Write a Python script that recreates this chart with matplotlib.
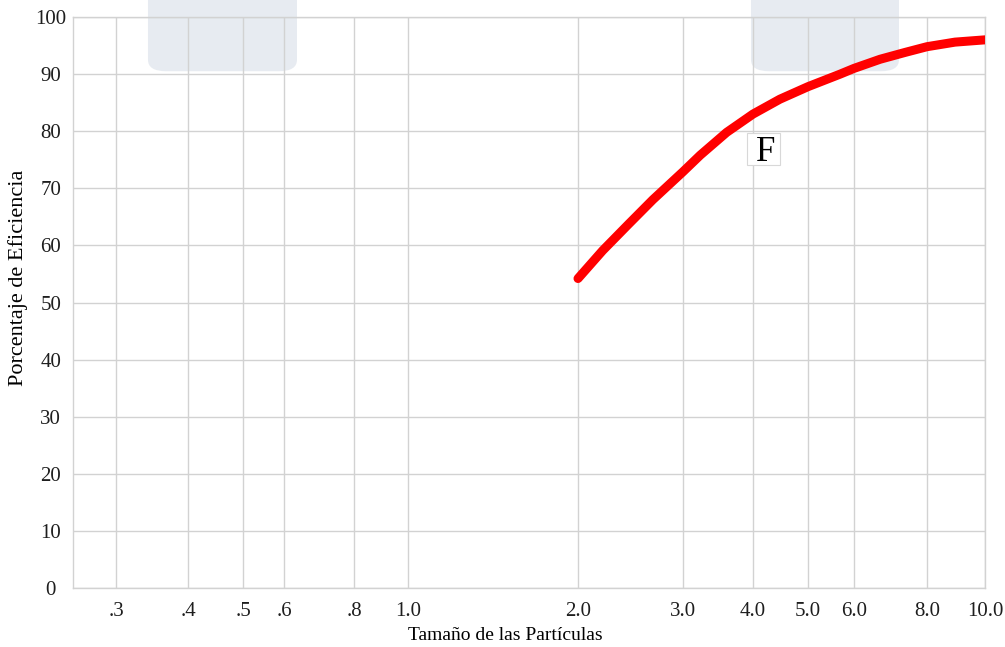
import numpy as np
import matplotlib
matplotlib.use("Agg")
import matplotlib.pyplot as plt
from matplotlib.patches import FancyBboxPatch, Rectangle

# curve
particle_size = [2.0, 2.2, 2.43, 2.67, 3.0, 3.22, 3.59, 4.0, 4.46, 5.0,
                 5.68, 6.0, 6.65, 7.34, 8.0, 8.91, 10.0]
efficiency = [54.2, 59.1, 63.7, 68.0, 72.9, 75.8, 79.8, 83.0, 85.6, 87.8,
              90.0, 91.0, 92.6, 93.8, 94.8, 95.6, 96.0]

x_ticks = [0.3, 0.4, 0.5, 0.6, 0.8, 1.0, 2.0, 3.0, 4.0, 5.0, 6.0, 8.0, 10.0]
x_tick_labels = [".3", ".4", ".5", ".6", ".8", "1.0", "2.0", "3.0", "4.0",
                 "5.0", "6.0", "8.0", "10.0"]
y_ticks = list(range(0, 101, 10))

# the printed axis is only roughly logarithmic: spacing of its ticks
scale_values = [0.2526] + x_ticks
scale_px = [73, 116, 188, 243, 284, 354, 408, 578, 683, 753, 808, 854, 927, 985]
log_vals = np.log10(scale_values)


def fwd(x):
    x = np.clip(np.asarray(x, dtype=float), 1e-6, None)
    return np.interp(np.log10(x), log_vals, scale_px)


def inv(p):
    return 10 ** np.interp(np.asarray(p, dtype=float), scale_px, log_vals)


plt.rcParams["font.family"] = ["Liberation Serif", "DejaVu Serif"]

fig = plt.figure(figsize=(10.05, 6.47), dpi=100)
ax = fig.add_axes([73 / 1005, 1 - 588 / 647, 912 / 1005, 571 / 647])

ax.set_xscale("function", functions=(fwd, inv))
ax.set_xlim(0.2526, 10.0)
ax.set_ylim(0, 100)

ax.set_xticks(x_ticks)
ax.set_xticklabels(x_tick_labels)
ax.minorticks_off()
ax.set_yticks(y_ticks)
ax.tick_params(axis="both", length=0, labelsize=15, colors="#1e1e1e")
ax.tick_params(axis="x", pad=10)
ax.tick_params(axis="y", pad=16)
for lab in ax.get_yticklabels():
    lab.set_horizontalalignment("center")

ax.grid(True, color="#d2d2d2", linewidth=1.0, zorder=0)
for s in ax.spines.values():
    s.set_color("#d2d2d2")
    s.set_linewidth(1.0)

# pale rounded boxes at the top
for x0, x1 in [(0.0822, 0.2456), (0.7434, 0.9057)]:
    box = FancyBboxPatch((x0, 0.905), x1 - x0, 0.2,
                         boxstyle="round,pad=0,rounding_size=0.02",
                         transform=ax.transAxes, clip_on=False,
                         facecolor="#cbd4e0", edgecolor="none", alpha=0.45,
                         zorder=1)
    ax.add_patch(box)

ax.plot(particle_size, efficiency, color="#ff0000", linewidth=6.5,
        solid_capstyle="round", solid_joinstyle="round", zorder=3)

# label "F" in a small white box
ax.add_patch(Rectangle((0.739, 0.741), 0.0362, 0.056, transform=ax.transAxes,
                       facecolor="white", edgecolor="#d8d8d8", linewidth=0.8,
                       zorder=4))
ax.text(0.759, 0.748, "F", fontsize=25, ha="center", va="baseline",
        transform=ax.transAxes, zorder=5)

ax.set_xlabel("Tamaño de las Partículas", fontsize=14)
ax.xaxis.set_label_coords(0.474, -0.068)
ax.set_ylabel("Porcentaje de Eficiencia", fontsize=16)
ax.yaxis.set_label_coords(-0.049, 0.543)

fig.savefig("out.png", dpi=100)
